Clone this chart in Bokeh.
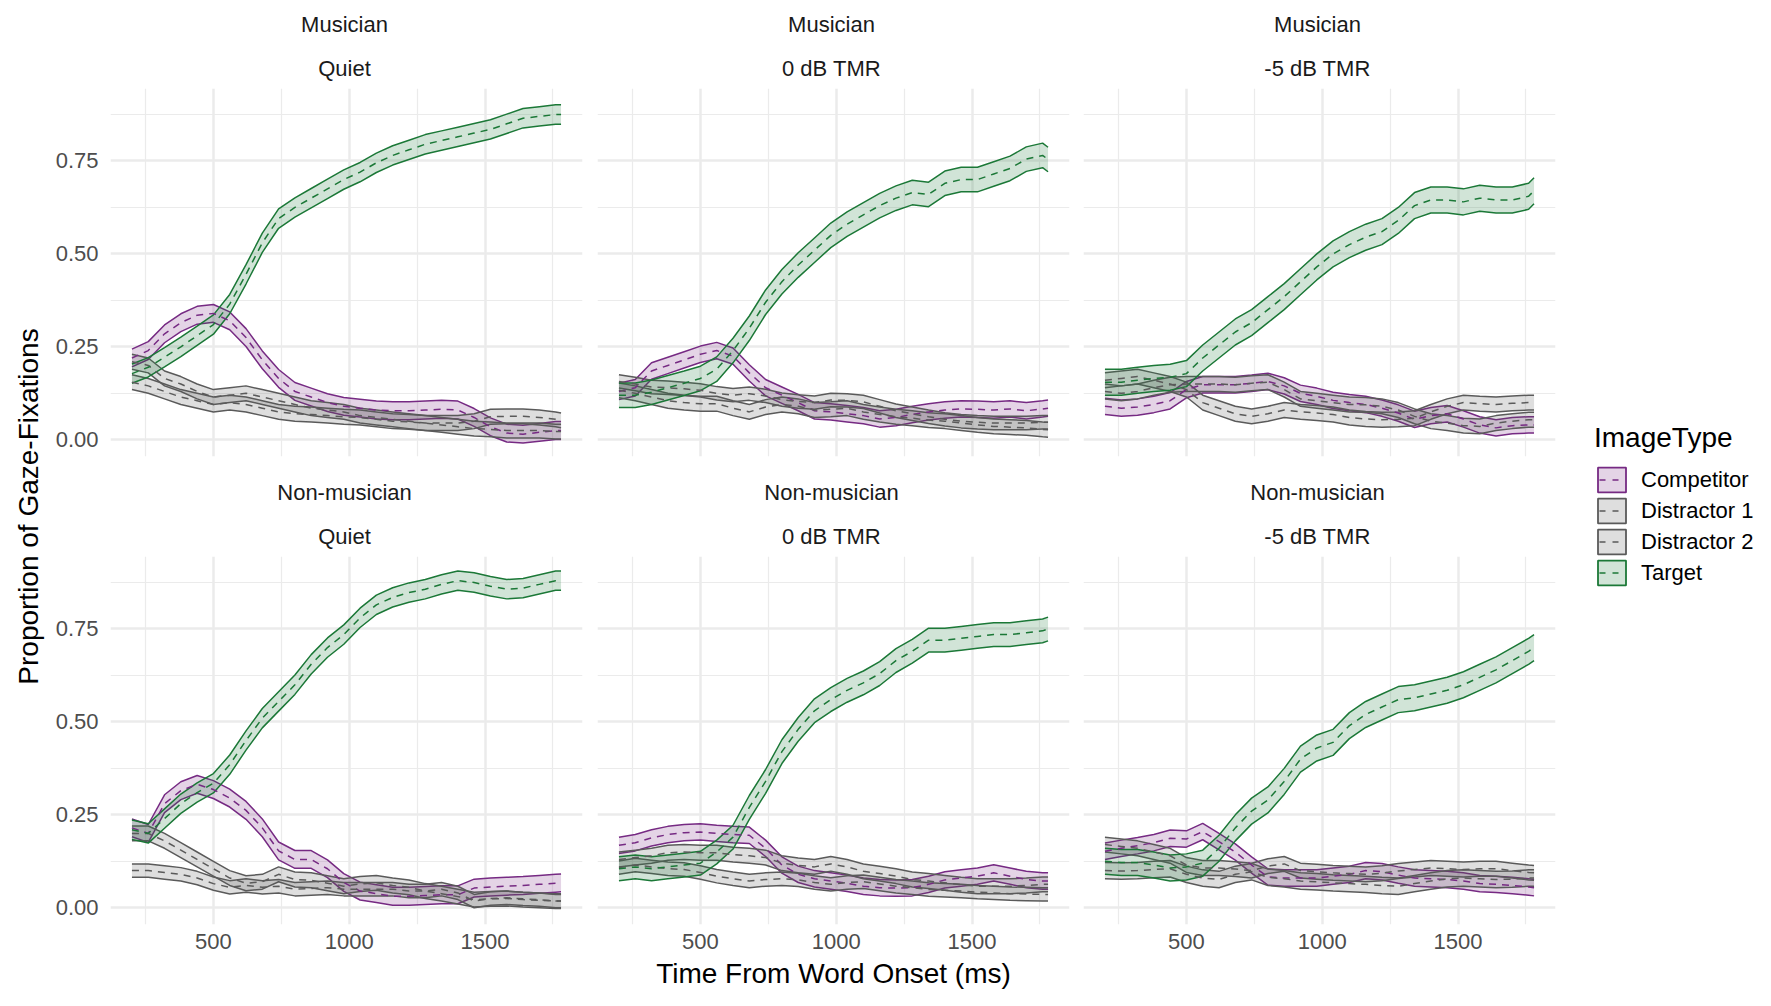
import math
from bokeh.plotting import figure
from bokeh.models import (Range1d, FixedTicker, Label, Legend, LegendItem,
                          NumeralTickFormatter)
from bokeh.layouts import row, column
from bokeh.embed import file_html
from bokeh.resources import INLINE

FONT = "Liberation Sans"
NAN = float("nan")

# ---------------- data ----------------
t = [200, 260, 320, 380, 440, 500, 560, 620, 680, 740, 800, 860, 920, 980,
     1040, 1100, 1160, 1220, 1280, 1340, 1400, 1460, 1520, 1580, 1640, 1700, 1760, 1780]

image_types = ["Competitor", "Distractor 1", "Distractor 2", "Target"]
line_colors = ["#762A83", "#5A5A5A", "#5A5A5A", "#1B7837"]

# Musician / Quiet
mq_comp = [0.22, 0.24, 0.285, 0.315, 0.335, 0.34, 0.32, 0.275, 0.215, 0.165, 0.13, 0.115, 0.10, 0.09,
           0.085, 0.08, 0.078, 0.078, 0.08, 0.082, 0.08, 0.06, 0.035, 0.018, 0.015, 0.02, 0.025, 0.025]
mq_d1 = [0.21, 0.20, 0.165, 0.15, 0.13, 0.115, 0.12, 0.125, 0.115, 0.105, 0.095, 0.085, 0.08, 0.075,
         0.065, 0.06, 0.055, 0.05, 0.045, 0.045, 0.045, 0.05, 0.062, 0.063, 0.063, 0.06, 0.055, 0.052]
mq_d2 = [0.155, 0.145, 0.13, 0.115, 0.105, 0.095, 0.10, 0.095, 0.085, 0.075, 0.07, 0.068, 0.065, 0.062,
         0.06, 0.055, 0.05, 0.048, 0.045, 0.04, 0.035, 0.03, 0.028, 0.025, 0.025, 0.025, 0.022, 0.022]
mq_targ = [0.178, 0.195, 0.222, 0.25, 0.28, 0.31, 0.365, 0.445, 0.53, 0.595, 0.625, 0.65, 0.675, 0.70,
           0.72, 0.745, 0.765, 0.78, 0.795, 0.805, 0.815, 0.825, 0.835, 0.85, 0.865, 0.87, 0.875, 0.875]
mq_hw = [0.024, 0.02, 0.02, 0.026]

# Musician / 0 dB TMR
m0_comp = [0.13, 0.14, 0.185, 0.20, 0.215, 0.23, 0.24, 0.225, 0.18, 0.14, 0.12, 0.10, 0.078, 0.075,
           0.07, 0.065, 0.056, 0.06, 0.068, 0.075, 0.08, 0.083, 0.082, 0.08, 0.083, 0.078, 0.083, 0.085]
m0_d1 = [0.157, 0.15, 0.142, 0.14, 0.137, 0.133, 0.125, 0.12, 0.124, 0.118, 0.108, 0.103, 0.10, 0.107,
         0.106, 0.102, 0.09, 0.078, 0.07, 0.062, 0.055, 0.05, 0.047, 0.045, 0.045, 0.045, 0.047, 0.047]
m0_d2 = [0.133, 0.125, 0.115, 0.105, 0.10, 0.097, 0.097, 0.085, 0.075, 0.088, 0.095, 0.09, 0.08, 0.082,
         0.085, 0.075, 0.068, 0.062, 0.058, 0.053, 0.05, 0.045, 0.04, 0.036, 0.034, 0.032, 0.028, 0.027]
m0_targ = [0.12, 0.12, 0.128, 0.14, 0.152, 0.165, 0.19, 0.24, 0.30, 0.37, 0.425, 0.47, 0.51, 0.55,
           0.58, 0.605, 0.63, 0.65, 0.665, 0.66, 0.69, 0.70, 0.70, 0.715, 0.73, 0.755, 0.765, 0.754]
m0_hw = [0.022, 0.018, 0.02, 0.033]

# Musician / -5 dB TMR
m5_comp = [0.09, 0.085, 0.088, 0.095, 0.105, 0.135, 0.148, 0.148, 0.148, 0.152, 0.157, 0.145, 0.125, 0.117,
           0.106, 0.10, 0.095, 0.085, 0.072, 0.055, 0.065, 0.07, 0.056, 0.04, 0.032, 0.038, 0.04, 0.04]
m5_d1 = [0.16, 0.165, 0.17, 0.16, 0.15, 0.135, 0.10, 0.085, 0.07, 0.063, 0.07, 0.08, 0.075, 0.072,
         0.068, 0.06, 0.056, 0.054, 0.055, 0.058, 0.075, 0.09, 0.10, 0.097, 0.095, 0.098, 0.10, 0.10]
m5_d2 = [0.13, 0.125, 0.13, 0.14, 0.148, 0.15, 0.15, 0.15, 0.148, 0.152, 0.155, 0.135, 0.11, 0.105,
         0.10, 0.095, 0.094, 0.09, 0.08, 0.063, 0.05, 0.045, 0.038, 0.036, 0.045, 0.05, 0.054, 0.054]
m5_targ = [0.155, 0.155, 0.16, 0.165, 0.168, 0.178, 0.22, 0.255, 0.29, 0.315, 0.35, 0.385, 0.425, 0.465,
           0.50, 0.525, 0.545, 0.56, 0.59, 0.63, 0.645, 0.645, 0.64, 0.65, 0.645, 0.645, 0.655, 0.67]
m5_hw = [0.022, 0.02, 0.02, 0.035]

# Non-musician / Quiet
nq_comp = [0.215, 0.20, 0.28, 0.315, 0.332, 0.318, 0.295, 0.262, 0.215, 0.153, 0.13, 0.13, 0.105, 0.068,
           0.045, 0.038, 0.031, 0.031, 0.033, 0.035, 0.035, 0.053, 0.056, 0.058, 0.06, 0.063, 0.066, 0.067]
nq_d1 = [0.20, 0.20, 0.18, 0.155, 0.13, 0.105, 0.08, 0.066, 0.07, 0.09, 0.076, 0.074, 0.066, 0.058,
         0.064, 0.067, 0.06, 0.055, 0.045, 0.038, 0.03, 0.022, 0.024, 0.025, 0.022, 0.02, 0.018, 0.018]
nq_d2 = [0.10, 0.10, 0.095, 0.09, 0.08, 0.065, 0.055, 0.06, 0.055, 0.058, 0.05, 0.052, 0.054, 0.05,
         0.05, 0.05, 0.05, 0.045, 0.045, 0.05, 0.04, 0.018, 0.025, 0.027, 0.024, 0.022, 0.018, 0.018]
nq_targ = [0.21, 0.20, 0.24, 0.28, 0.31, 0.335, 0.385, 0.45, 0.51, 0.555, 0.60, 0.655, 0.70, 0.735,
           0.78, 0.815, 0.835, 0.848, 0.857, 0.87, 0.88, 0.875, 0.865, 0.857, 0.86, 0.87, 0.88, 0.88]
nq_hw = [0.024, 0.02, 0.018, 0.026]

# Non-musician / 0 dB TMR
n0_comp = [0.168, 0.175, 0.188, 0.197, 0.202, 0.204, 0.20, 0.197, 0.195, 0.16, 0.115, 0.09, 0.078, 0.072,
           0.066, 0.058, 0.054, 0.053, 0.054, 0.063, 0.075, 0.08, 0.085, 0.094, 0.085, 0.076, 0.072, 0.072]
n0_d1 = [0.13, 0.135, 0.14, 0.148, 0.15, 0.148, 0.148, 0.143, 0.14, 0.135, 0.12, 0.114, 0.11, 0.118,
         0.11, 0.098, 0.092, 0.085, 0.076, 0.072, 0.067, 0.062, 0.058, 0.058, 0.058, 0.06, 0.063, 0.063]
n0_d2 = [0.108, 0.115, 0.11, 0.105, 0.103, 0.095, 0.085, 0.078, 0.072, 0.076, 0.078, 0.075, 0.068, 0.063,
         0.068, 0.07, 0.064, 0.058, 0.054, 0.049, 0.047, 0.045, 0.042, 0.04, 0.038, 0.037, 0.036, 0.036]
n0_targ = [0.105, 0.11, 0.105, 0.11, 0.115, 0.12, 0.15, 0.19, 0.27, 0.34, 0.42, 0.48, 0.53, 0.56,
           0.585, 0.605, 0.63, 0.665, 0.69, 0.72, 0.72, 0.725, 0.73, 0.735, 0.735, 0.74, 0.745, 0.75]
n0_hw = [0.022, 0.02, 0.018, 0.032]

# Non-musician / -5 dB TMR
n5_comp = [0.152, 0.16, 0.167, 0.175, 0.187, 0.185, 0.205, 0.178, 0.15, 0.115, 0.083, 0.08, 0.08, 0.08,
           0.085, 0.09, 0.10, 0.097, 0.088, 0.08, 0.078, 0.076, 0.072, 0.065, 0.063, 0.06, 0.056, 0.054]
n5_d1 = [0.17, 0.165, 0.16, 0.15, 0.14, 0.115, 0.107, 0.107, 0.104, 0.10, 0.112, 0.118, 0.10, 0.097,
         0.094, 0.092, 0.09, 0.093, 0.099, 0.103, 0.107, 0.105, 0.103, 0.105, 0.105, 0.10, 0.095, 0.094]
n5_d2 = [0.10, 0.099, 0.10, 0.103, 0.105, 0.09, 0.08, 0.076, 0.09, 0.097, 0.082, 0.078, 0.072, 0.07,
         0.067, 0.065, 0.063, 0.06, 0.058, 0.065, 0.072, 0.078, 0.08, 0.078, 0.076, 0.077, 0.08, 0.08]
n5_targ = [0.125, 0.122, 0.122, 0.115, 0.107, 0.11, 0.12, 0.16, 0.215, 0.26, 0.29, 0.34, 0.40, 0.43,
           0.445, 0.49, 0.52, 0.54, 0.56, 0.565, 0.575, 0.585, 0.60, 0.62, 0.64, 0.665, 0.69, 0.70]
n5_hw = [0.022, 0.02, 0.022, 0.035]

groups = ["Musician", "Non-musician"]
conditions = ["Quiet", "0 dB TMR", "-5 dB TMR"]
y_ticks = [0.0, 0.25, 0.5, 0.75]
y_minor = [0.125, 0.375, 0.625, 0.875]
x_ticks = [500, 1000, 1500]
x_minor = [250, 750, 1250, 1750]

panels = [
    [([mq_comp, mq_d1, mq_d2, mq_targ], mq_hw),
     ([m0_comp, m0_d1, m0_d2, m0_targ], m0_hw),
     ([m5_comp, m5_d1, m5_d2, m5_targ], m5_hw)],
    [([nq_comp, nq_d1, nq_d2, nq_targ], nq_hw),
     ([n0_comp, n0_d1, n0_d2, n0_targ], n0_hw),
     ([n5_comp, n5_d1, n5_d2, n5_targ], n5_hw)],
]

# ---------------- layout constants ----------------
FW, FH = 472, 368
STRIP_H = [88, 80]
col_borders = [(56, 7), (8, 7), (7, 5)]
row_bottom = [20, 72]
GRID = "#EBEBEB"
DASH = "7 6"
LW = 1.5


def blank(fig):
    fig.axis.visible = False
    fig.grid.visible = False
    fig.outline_line_color = None
    fig.background_fill_color = "white"
    fig.border_fill_color = "white"


def make_strip(r, c):
    bl, br = col_borders[c]
    s = figure(frame_width=FW, frame_height=STRIP_H[r],
               x_range=Range1d(0, 1), y_range=Range1d(0, 1),
               min_border_left=bl, min_border_right=br,
               min_border_top=0, min_border_bottom=0,
               output_backend="svg", toolbar_location=None)
    blank(s)
    s.add_layout(Label(x=FW / 2, y=64, x_units="screen", y_units="screen",
                       text=groups[r], text_align="center", text_baseline="middle",
                       text_font=FONT, text_font_size="22px", text_color="#1A1A1A"))
    s.add_layout(Label(x=FW / 2, y=20, x_units="screen", y_units="screen",
                       text=conditions[c], text_align="center", text_baseline="middle",
                       text_font=FONT, text_font_size="22px", text_color="#1A1A1A"))
    return s


def make_panel(r, c):
    series, hw = panels[r][c]
    bl, br = col_borders[c]
    p = figure(frame_width=FW, frame_height=FH,
               x_range=Range1d(121, 1859), y_range=Range1d(-0.045, 0.945),
               min_border_left=bl, min_border_right=br,
               min_border_top=0, min_border_bottom=row_bottom[r],
               output_backend="svg", toolbar_location=None)
    p.outline_line_color = None
    p.background_fill_color = "white"
    p.border_fill_color = "white"

    xt = FixedTicker(ticks=x_ticks, minor_ticks=x_minor)
    yt = FixedTicker(ticks=y_ticks, minor_ticks=y_minor)
    p.xaxis.ticker = xt
    p.yaxis.ticker = yt
    p.xgrid.ticker = xt
    p.ygrid.ticker = yt
    for g in (p.xgrid, p.ygrid):
        g.grid_line_color = GRID
        g.grid_line_width = 2.5
        g.minor_grid_line_color = GRID
        g.minor_grid_line_width = 1.2

    p.axis.axis_line_color = None
    p.axis.major_tick_line_color = None
    p.axis.minor_tick_line_color = None
    p.axis.major_label_text_font = FONT
    p.axis.major_label_text_font_size = "22px"
    p.axis.major_label_text_color = "#4D4D4D"
    p.yaxis.formatter = NumeralTickFormatter(format="0.00")
    p.xaxis.formatter = NumeralTickFormatter(format="0")
    p.yaxis.major_label_standoff = 6
    p.xaxis.major_label_standoff = 3

    if r == 0:
        p.xaxis.visible = False
    if c != 0:
        p.yaxis.visible = False
    if r == 1 and c == 1:
        p.xaxis.axis_label = "Time From Word Onset (ms)"
        p.xaxis.axis_label_text_font = FONT
        p.xaxis.axis_label_text_font_size = "28px"
        p.xaxis.axis_label_text_font_style = "normal"
        p.xaxis.axis_label_text_color = "black"
        p.xaxis.axis_label_standoff = 6

    # ribbons (fill + outline per group), then dashed mean lines
    for m, h, col in zip(series, hw, line_colors):
        lo = [v - h for v in m]
        hi = [v + h for v in m]
        p.varea(x=t, y1=lo, y2=hi, fill_color=col, fill_alpha=0.2)
        p.line(x=t, y=lo, line_color=col, line_width=LW)
        p.line(x=t, y=hi, line_color=col, line_width=LW)
    for m, col in zip(series, line_colors):
        p.line(x=t, y=m, line_color=col, line_width=LW, line_dash=DASH)
    return p


rows = []
for r in range(2):
    rows.append(row([make_strip(r, c) for c in range(3)]))
    rows.append(row([make_panel(r, c) for c in range(3)]))
grid = column(rows)

TOTAL_H = sum(STRIP_H) + 2 * FH + sum(row_bottom)

# y-axis title
yl = figure(width=52, height=TOTAL_H, x_range=Range1d(0, 1), y_range=Range1d(0, 1),
            min_border=0, output_backend="svg", toolbar_location=None)
blank(yl)
yl.add_layout(Label(x=28, y=TOTAL_H - 506, x_units="screen", y_units="screen",
                    text="Proportion of Gaze-Fixations", angle=math.pi / 2,
                    text_align="center", text_baseline="middle",
                    text_font=FONT, text_font_size="28px", text_color="black"))

# legend
lf = figure(width=200, height=TOTAL_H, x_range=Range1d(0, 1), y_range=Range1d(0, 1),
            min_border=0, output_backend="svg", toolbar_location=None)
blank(lf)
items = []
for name, col in zip(image_types, line_colors):
    rq = lf.quad(left=[NAN], right=[NAN], top=[NAN], bottom=[NAN],
                 fill_color=col, fill_alpha=0.2, line_color=col, line_width=1.8)
    rl = lf.line(x=[NAN], y=[NAN], line_color=col, line_width=LW, line_dash="0 5 6 7 6 30")
    items.append(LegendItem(label=name, renderers=[rq, rl]))
legend = Legend(items=items, location=(34, TOTAL_H - 588),
                title="ImageType", title_text_font=FONT, title_text_font_size="28px",
                title_text_font_style="normal", title_text_color="black", title_standoff=10,
                label_text_font=FONT, label_text_font_size="22px", label_text_color="black",
                glyph_width=35, glyph_height=31, label_height=31, spacing=0,
                label_standoff=12, padding=0, margin=0,
                border_line_color=None, background_fill_alpha=0)
lf.add_layout(legend)

layout = row(yl, grid, lf)

with open("out.html", "w") as f:
    f.write(file_html(layout, INLINE))
